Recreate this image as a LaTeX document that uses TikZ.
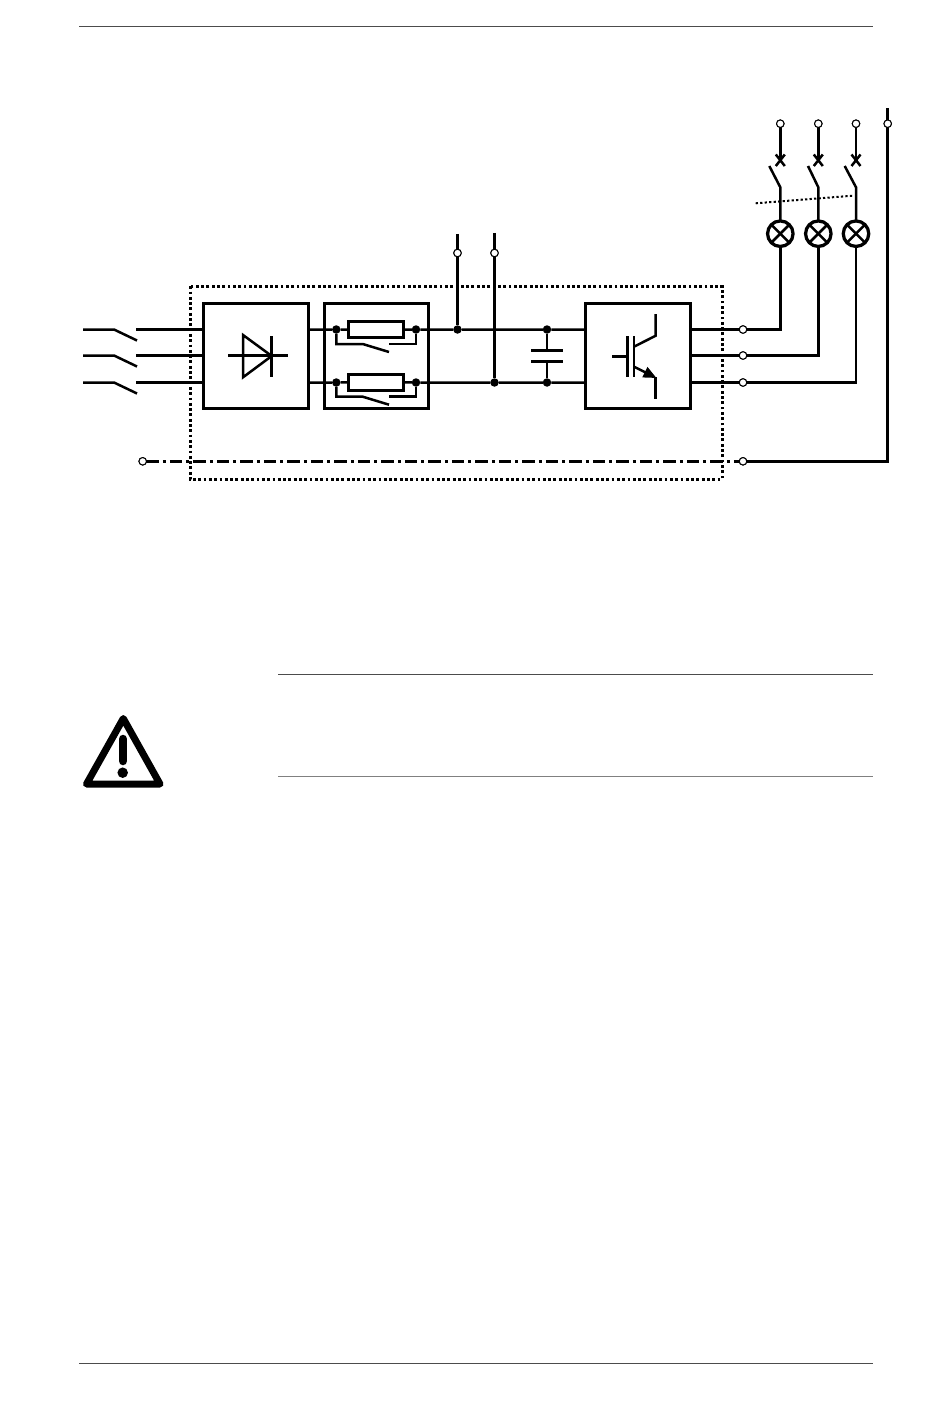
\documentclass[tikz,border=0pt]{standalone}
\usetikzlibrary{arrows.meta}
\tikzset{
  wire/.style={line width=0.05cm},
  blockbox/.style={draw,line width=0.06cm,fill=white,minimum width=2.1cm,minimum height=2.1cm,inner sep=0pt,outer sep=0pt},
  resbox/.style={draw,line width=0.06cm,fill=white,minimum width=1.09cm,minimum height=0.33cm,inner sep=0pt,outer sep=0pt},
  terminal/.style={draw,circle,line width=0.02cm,fill=white,minimum size=0.15cm,inner sep=0pt,outer sep=0pt},
  joint/.style={circle,fill=black,minimum size=0.17cm,inner sep=0pt,outer sep=0pt},
  lamp/.style={draw,circle,line width=0.065cm,fill=white,minimum size=0.51cm,inner sep=0pt,outer sep=0pt},
  pagerule/.style={line width=0.02cm,black!70}
}
\begin{document}
\begin{tikzpicture}[x=0.02cm,y=-0.02cm]
  \useasboundingbox (0,0) rectangle (950,1409);
  % page rules
  \draw[pagerule] (79,27) -- (873,27);
  \draw[pagerule] (79,1363) -- (873,1363);
  \draw[pagerule] (278,674.5) -- (873,674.5);
  \draw[pagerule,black!50] (278,776) -- (873,776);
  % blocks
  \node[blockbox] (rect) at (256.3,356) {};
  \node[blockbox] (chop) at (376.5,356) {};
  \node[blockbox] (inv) at (637.7,356) {};
  \node[resbox] (resa) at (376,329.7) {};
  \node[resbox] (resb) at (376,382.4) {};
  % mains switches and phases
  \foreach \n/\y in {a/329.5,b/355.5,c/382.5} {
    \coordinate (in\n) at (83,\y);
    \coordinate (hinge\n) at (114,\y);
    \coordinate (blade\n) at (137,\y+11);
    \coordinate (fix\n) at (136,\y);
    \draw[wire] (in\n) -- (hinge\n) -- (blade\n);
    \draw[wire] (fix\n) -- (rect.west |- fix\n);
    \node[terminal] (out\n) at (743,\y) {};
    \draw[wire] (inv.east |- out\n) -- (out\n);
  }
  % diode
  \coordinate (dl) at (228,355.5);
  \coordinate (dr) at (288,355.5);
  \coordinate (da) at (243,335);
  \coordinate (db) at (243,377.3);
  \coordinate (dk) at (271.7,356);
  \draw[wire] (dl) -- (dr);
  \draw[wire,line join=miter] (da) -- (db) -- (dk) -- cycle;
  \draw[wire] (271.7,336) -- (271.7,377);
  % dc link
  \node[joint] (ja) at (336.3,329.5) {};
  \node[joint] (jb) at (416,329.5) {};
  \node[joint] (jc) at (336.3,382.5) {};
  \node[joint] (jd) at (416,382.5) {};
  \node[joint] (je) at (457.5,329.5) {};
  \node[joint] (jf) at (494.5,382.5) {};
  \node[joint] (jg) at (547,329.5) {};
  \node[joint] (jh) at (547,382.5) {};
  \draw[wire] (rect.east |- ja) -- (ja) -- (resa);
  \draw[wire] (rect.east |- jc) -- (jc) -- (resb);
  \draw[wire] (resa) -- (jb) -- (je) -- (jg) -- (inv.west |- jg);
  \draw[wire] (resb) -- (jd) -- (jf) -- (jh) -- (inv.west |- jh);
  \node[resbox] at (resa) {};
  \node[resbox] at (resb) {};
  % bypass contacts
  \draw[wire] (ja) -- (336.3,344) -- (362.7,344) -- (389,352);
  \draw[wire] (389.3,344) -- (416,344) -- (jb);
  \draw[wire] (jc) -- (336.3,396.7) -- (362.7,396.7) -- (389,404.7);
  \draw[wire] (389.3,396.7) -- (416,396.7) -- (jd);
  % dc terminals
  \node[terminal] (dca) at (457.5,253) {};
  \node[terminal] (dcb) at (494.5,253) {};
  \coordinate (dcatop) at (457.5,234);
  \coordinate (dcbtop) at (494.5,233);
  \draw[wire] (dcatop) -- (dca) -- (je);
  \draw[wire] (dcbtop) -- (dcb) -- (jf);
  % capacitor
  \draw[wire] (jg) -- (547,350.3);
  \draw[wire] (jh) -- (547,361.3);
  \draw[line width=0.07cm] (531,350.3) -- (562.7,350.3);
  \draw[line width=0.07cm] (531,361.3) -- (562.7,361.3);
  % igbt
  \draw[wire] (612.3,356.7) -- (627.3,356.7);
  \draw[wire] (627.3,336) -- (627.3,377.3);
  \draw[wire] (634,336) -- (634,377.3);
  \draw[wire] (634,346.7) -- (655.7,335.7) -- (655.7,314);
  \draw[wire] (655.7,377.3) -- (655.7,399.3);
  \draw[wire,-{Triangle[length=0.26cm,width=0.22cm]}] (634,366.7) -- (656.5,378);
  % lamps and contactors
  \foreach \n/\x/\bx in {a/780.3/769.3,b/818.3/808,c/856/844.7} {
    \node[lamp] (lamp\n) at (\x,233.7) {};
    \draw[wire] (lamp\n.north west) -- (lamp\n.south east);
    \draw[wire] (lamp\n.north east) -- (lamp\n.south west);
    \node[terminal] (sup\n) at (\x,123.7) {};
    \coordinate (cont\n) at (\x,160);
    \coordinate (pivot\n) at (\x,187.3);
    \coordinate (tip\n) at (\bx,166);
    \draw[wire] (sup\n) -- (cont\n);
    \draw[wire] (\x-4.5,154.5) -- (\x+4.5,166) (\x+4.5,154.5) -- (\x-4.5,166);
    \draw[wire] (tip\n) -- (pivot\n) -- (lamp\n);
    \draw[wire] (out\n) -- (lamp\n |- out\n) -- (lamp\n);
  }
  \coordinate (linkl) at (755.7,203.3);
  \coordinate (linkr) at (852.7,195.7);
  \draw[line width=0.04cm,dash pattern=on 0.045cm off 0.045cm] (linkl) -- (linkr);
  % protective earth
  \node[terminal] (pel) at (142.7,461.3) {};
  \node[terminal] (per) at (743,461.3) {};
  \node[terminal] (pet) at (887.7,123.7) {};
  \coordinate (petop) at (887.7,108);
  \coordinate (pecorner) at (887.7,461.3);
  \draw[wire] (per) -- (pecorner) -- (pet) -- (petop);
  \draw[wire,dash pattern=on 0.25cm off 0.08cm on 0.06cm off 0.08cm] (pel) -- (per);
  % enclosure
  \draw[line width=0.06cm,dash pattern=on 0.056cm off 0.05cm] (190,286.3) rectangle (722,479.3);
  % redraw terminals over wires
  \foreach \n in {a,b,c} {
    \node[terminal] at (out\n) {};
    \node[terminal] at (sup\n) {};
  }
  \node[terminal] at (dca) {};
  \node[terminal] at (dcb) {};
  \node[terminal] at (pel) {};
  \node[terminal] at (per) {};
  \node[terminal] at (pet) {};
  % warning sign
  \draw[line width=0.14cm,line join=round] (123.3,718.5) -- (86.5,784) -- (160,784) -- cycle;
  \draw[line width=0.17cm,line cap=round] (123,739) -- (123,761);
  \fill (122.7,772.7) circle (0.105cm);
\end{tikzpicture}
\end{document}
